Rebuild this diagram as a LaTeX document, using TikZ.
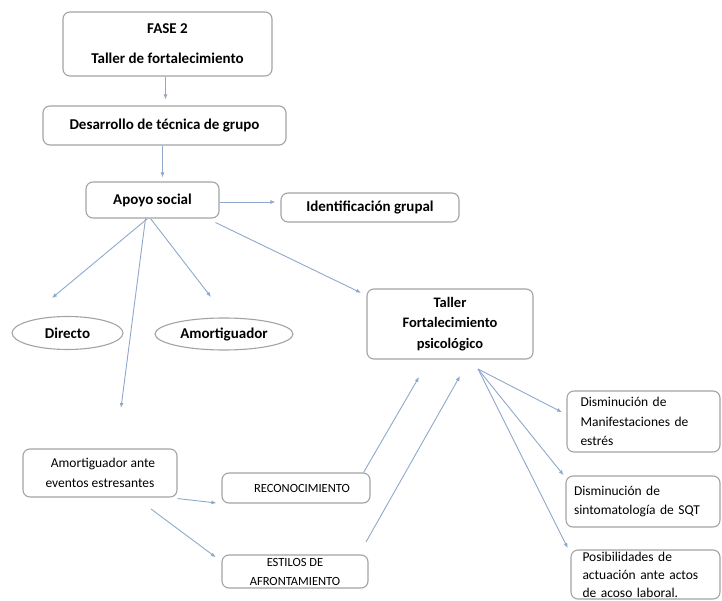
\documentclass[tikz,border=0pt]{standalone}
\usepackage{fontspec}
\setmainfont{Carlito}
\usetikzlibrary{shapes.geometric,arrows.meta}
\definecolor{boxgray}{HTML}{A3A3A3}
\definecolor{linkblue}{HTML}{8EA8CC}
\begin{document}
\begin{tikzpicture}[x=1pt,y=-1pt,
  box/.style={draw=boxgray, line width=1.1pt, rounded corners=7pt, inner sep=0pt, align=center},
  oval/.style={draw=boxgray, line width=1.1pt, ellipse, inner sep=0pt},
  head/.style={font=\bfseries\fontsize{15}{18}\selectfont},
  plain/.style={font=\fontsize{13.5}{19.5}\selectfont},
  caps/.style={font=\fontsize{12.5}{19}\selectfont},
  link/.style={draw=linkblue, line width=0.9pt, -{Latex[length=5pt,width=4pt]}}
]
\useasboundingbox (0,0) rectangle (722,601);

% upper chain of boxes
\node[box, head, minimum width=209pt, minimum height=64pt] (fase) at (167.5,44)
  {\raisebox{-2pt}{FASE 2}\\[12pt]\raisebox{-2pt}{Taller de fortalecimiento}};
\node[box, head, minimum width=243pt, minimum height=39pt] (desarrollo) at (164.5,125.5)
  {Desarrollo de técnica de grupo};
\node[box, head, minimum width=133pt, minimum height=36pt] (apoyo) at (152.5,200)
  {Apoyo social};
\node[box, head, minimum width=178pt, minimum height=29pt] (ident) at (370,207.5)
  {Identificación grupal};

% kinds of support
\node[oval, head, minimum width=111pt, minimum height=33pt] (directo) at (67.5,333) {Directo};
\node[oval, head, minimum width=138pt, minimum height=32pt] (amort) at (224,334) {Amortiguador};

% central workshop
\node[box, font=\bfseries\fontsize{14.5}{20.5}\selectfont,
      minimum width=166pt, minimum height=70pt] (taller) at (450,324)
  {Taller\\Fortalecimiento\\psicológico};

% outcomes
\node[box, plain, align=left, text width=126pt, minimum width=153pt, minimum height=61pt]
  (dism1) at (643.5,421.5) {Disminución de\\Manifestaciones de\\estrés};
\node[box, plain, align=left, text width=138pt, minimum width=154pt, minimum height=51pt]
  (dism2) at (643,501.5) {Disminución de\\sintomatología de SQT};
\node[box, align=left, text width=126pt, minimum width=149pt, minimum height=49pt,
      font=\fontsize{13.5}{18}\selectfont]
  (posib) at (645.5,574.5) {Posibilidades de\\actuación ante actos\\de acoso laboral.};

% lower left boxes
\node[box, plain, minimum width=154pt, minimum height=48pt] (amortante) at (100,473)
  {\hspace*{6pt}Amortiguador ante\\eventos estresantes};
\node[box, caps, minimum width=148pt, minimum height=30pt]
  (recon) at (296,488) {\hspace*{12pt}RECONOCIMIENTO};
\node[box, caps, minimum width=146pt, minimum height=33pt]
  (estilos) at (295,571.5) {ESTILOS DE\\AFRONTAMIENTO};

% free ends of connectors
\coordinate (tipdir) at (52,298);
\coordinate (tipamort) at (211,297);
\coordinate (tiplong) at (121,408);
\coordinate (tipA) at (419,377);
\coordinate (tipB) at (460,376);
\coordinate (fan) at (478,369);
\coordinate (estart) at (366,542);
\coordinate (astart) at (151,509);

% connectors
\draw[link, shorten >=6pt] ([xshift=-2pt]fase.south) -- ([xshift=-2pt]fase.south |- desarrollo.north);
\draw[link, shorten >=4pt] ([xshift=-2pt]desarrollo.south) -- ([xshift=-2pt]desarrollo.south |- apoyo.north);
\draw[link, shorten >=5pt] ([yshift=-2pt]apoyo.east) -- ([yshift=-2pt]apoyo.east -| ident.west);
\draw[link] ([xshift=-5pt]apoyo.south) -- (tipdir);
\draw[link] ([xshift=-2pt]apoyo.south) -- (tipamort);
\draw[link] ([xshift=-7pt]apoyo.south) -- (tiplong);
\draw[link, shorten >=6pt] ([xshift=-4pt,yshift=-4pt]apoyo.south east) -- ([yshift=-7pt]taller.north west);
\draw[link, shorten >=5pt] ([yshift=-1pt]amortante.south east) -- (recon.south west);
\draw[link, shorten >=7pt] (astart) -- ([yshift=-7pt]estilos.north west);
\draw[link] ([xshift=-7pt]recon.north east) -- (tipA);
\draw[link] (estart) -- (tipB);
\draw[link, shorten >=5pt] (fan) -- ([yshift=7pt]dism1.west);
\draw[link, shorten >=3pt] (fan) -- ([yshift=-2pt]dism2.north west);
\draw[link, shorten >=6pt] (fan) -- ([yshift=-4pt]posib.north west);
\end{tikzpicture}
\end{document}
